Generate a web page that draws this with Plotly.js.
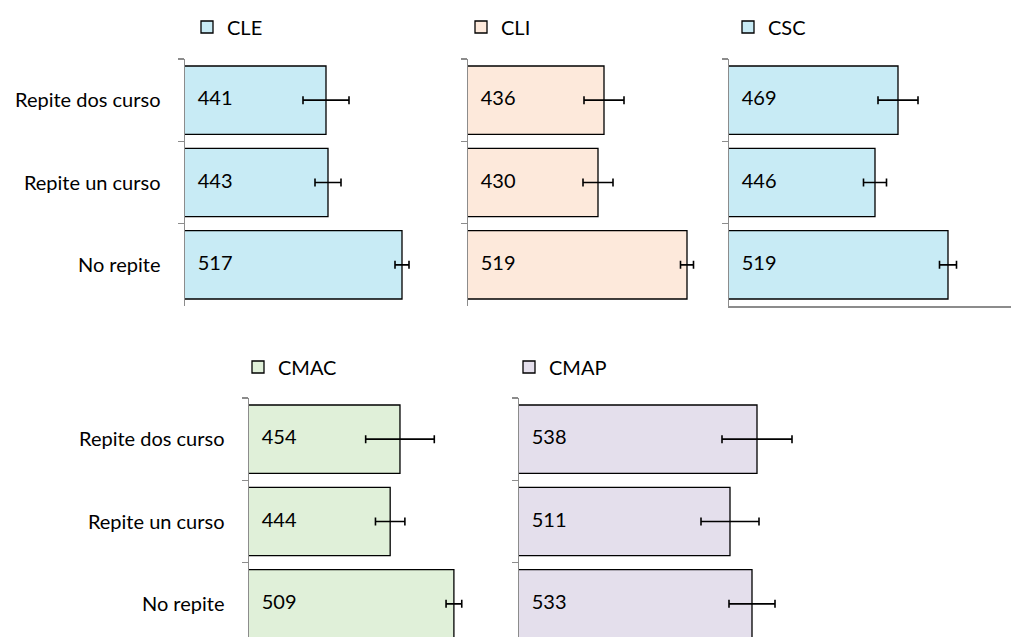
<!DOCTYPE html>
<html>
<head>
<meta charset="utf-8">
<script src="https://cdn.plot.ly/plotly-3.0.1.min.js"></script>
<style>
  body { margin: 0; background: #fff; }
  #chart { width: 1011px; height: 637px; }
</style>
</head>
<body>
<div id="chart"></div>
<script>
// Category labels, top to bottom
var categories = ['Repite dos curso', 'Repite un curso', 'No repite'];

// Mean scores and error half-widths per area
var cleValues = [441, 443, 517];
var cleErrors = [23, 13, 7];
var cliValues = [436, 430, 519];
var cliErrors = [20, 15, 6.5];
var cscValues = [469, 446, 519];
var cscErrors = [20, 11.5, 8.5];
var cmacValues = [454, 444, 509];
var cmacErrors = [35, 15, 8];
var cmapValues = [538, 511, 533];
var cmapErrors = [35, 29, 23];

var font = 'Lato, "Open Sans", sans-serif';
var xStart = 300;
var W = 1011, H = 637;

var panels = [
  {name: 'CLE', values: cleValues, errors: cleErrors, color: '#c8ebf5', n: '', left: 185, right: 445, xmax: 560, top: 59, bottom: 306, legX: 187, legY: 27, labels: true, xline: false},
  {name: 'CLI', values: cliValues, errors: cliErrors, color: '#fde9db', n: '2', left: 468, right: 708, xmax: 540, top: 59, bottom: 306, legX: 461, legY: 27, labels: false, xline: false},
  {name: 'CSC', values: cscValues, errors: cscErrors, color: '#c8ebf5', n: '3', left: 729, right: 1011, xmax: 582, top: 59, bottom: 306, legX: 728, legY: 27, labels: false, xline: true},
  {name: 'CMAC', values: cmacValues, errors: cmacErrors, color: '#e0f0d9', n: '4', left: 249, right: 499, xmax: 555, top: 398, bottom: 645, legX: 238, legY: 367, labels: true, xline: false},
  {name: 'CMAP', values: cmapValues, errors: cmapErrors, color: '#e4dfec', n: '5', left: 519, right: 809, xmax: 590, top: 398, bottom: 645, legX: 509, legY: 367, labels: false, xline: false}
];

var data = [];
var layout = {
  width: W,
  height: H,
  margin: {l: 0, r: 0, t: 0, b: 0},
  paper_bgcolor: '#fff',
  plot_bgcolor: 'rgba(0,0,0,0)',
  font: {family: font, size: 20, color: '#000'},
  barmode: 'group',
  bargap: 0.17,
  showlegend: true
};

panels.forEach(function(p) {
  var xa = 'x' + p.n, ya = 'y' + p.n;
  var legendId = 'legend' + p.n;
  data.push({
    type: 'bar',
    orientation: 'h',
    name: p.name,
    x: p.values,
    y: categories,
    xaxis: xa,
    yaxis: ya,
    legend: legendId,
    marker: {color: p.color, line: {color: '#000', width: 1.3}},
    error_x: {type: 'data', array: p.errors, visible: true, color: '#000', thickness: 1.6, width: 4},
    hoverinfo: 'x+y'
  });
  // value labels sitting at the left end of each bar
  data.push({
    type: 'scatter',
    mode: 'text',
    x: p.values.map(function() { return xStart; }),
    y: categories,
    text: p.values.map(function(v) { return '\u00a0\u00a0\u2009' + v; }),
    textposition: 'middle right',
    textfont: {family: font, size: 20, color: '#000'},
    xaxis: xa,
    yaxis: ya,
    showlegend: false,
    hoverinfo: 'skip',
    cliponaxis: false
  });

  // bottom row is cut off by the picture edge
  var bandPx = (p.bottom - p.top) / 3;
  var visibleBottom = Math.min(p.bottom, H);
  var yLow = -0.5 + (visibleBottom - p.top) / bandPx;

  layout['xaxis' + p.n] = {
    domain: [p.left / W, Math.min(p.right / W, 1)],
    range: [xStart, p.xmax],
    anchor: ya,
    showgrid: false,
    zeroline: false,
    showticklabels: false,
    ticks: '',
    showline: p.xline,
    linecolor: '#8c8c8c',
    linewidth: 1.5
  };
  layout['yaxis' + p.n] = {
    domain: [(H - visibleBottom) / H, (H - p.top) / H],
    type: 'category',
    range: [yLow, -0.5],
    anchor: xa,
    showgrid: false,
    zeroline: false,
    showline: true,
    linecolor: '#8c8c8c',
    linewidth: 1.5,
    ticks: 'outside',
    tickson: 'boundaries',
    ticklen: 6,
    tickcolor: '#8c8c8c',
    tickwidth: 1.5,
    showticklabels: p.labels,
    ticklabelstandoff: 19,
    tickfont: {family: font, size: 20, color: '#000'}
  };
  layout[legendId] = {
    x: p.legX / W,
    y: 1 - p.legY / H,
    xanchor: 'left',
    yanchor: 'middle',
    bgcolor: 'rgba(0,0,0,0)',
    font: {family: font, size: 20, color: '#000'},
    itemwidth: 30
  };
});

Plotly.newPlot('chart', data, layout, {displayModeBar: false, staticPlot: true});
</script>
</body>
</html>
